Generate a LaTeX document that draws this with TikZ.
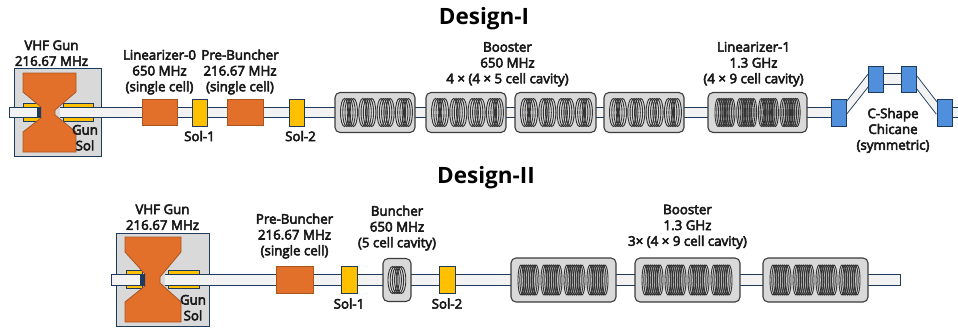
\documentclass[tikz,border=0pt]{standalone}
\usepackage{fontspec}
\setmainfont{Open Sans}
\newfontfamily\lblfont[FakeBold=4]{Open Sans}
\newfontfamily\ttlfont{Open Sans}
\usetikzlibrary{positioning,calc,backgrounds}
\definecolor{gunorange}{HTML}{E2702B}
\definecolor{edgeorange}{HTML}{A9551F}
\definecolor{solyellow}{HTML}{FFC000}
\definecolor{magblue}{HTML}{4F8FDB}
\definecolor{edgeblue}{HTML}{1F3B5C}
\definecolor{pipefill}{HTML}{F2F2F2}
\definecolor{boxgray}{HTML}{D9D9D9}
\definecolor{edgegray}{HTML}{3C3C3C}
\newcommand{\cellgroups}[6]{% node, first offset, pitch, width, height, rings
  \foreach \g in {0,1,2,3} {
    \pgfmathsetmacro{\cx}{#2+\g*#3}
    \pgfmathsetmacro{\rr}{#6>5 ? 3 : 4}
    \pgfmathsetmacro{\stepx}{(#4-2*\rr)/(#6-1)}
    \foreach \k in {1,...,#6} {
      \pgfmathsetmacro{\rx}{\cx-#4/2+\rr+(\k-1)*\stepx}
      \draw[ring] ($(#1.west)+(\rx,0)$) ellipse (\rr pt and #5pt);
    }
  }
}

\begin{document}
\begin{tikzpicture}[
  x=1pt, y=-1pt,
  every node/.style={outer sep=0pt},
  gunbox/.style={draw=edgeblue, fill=boxgray, line width=1pt, inner sep=0pt},
  gunsol/.style={draw=edgeblue, fill=solyellow, line width=1pt, inner sep=0pt},
  gunbody/.style={draw=edgeorange, fill=gunorange, line width=0.8pt},
  cathode/.style={draw=none, fill=edgeblue, inner sep=0pt},
  rfbox/.style={draw=edgeorange, fill=gunorange, line width=1pt, inner sep=0pt},
  solbox/.style={draw=edgeblue, fill=solyellow, line width=1pt, inner sep=0pt, minimum width=15pt, minimum height=27pt},
  magnet/.style={draw=edgeblue, fill=magblue, line width=1pt, inner sep=0pt, minimum width=15pt, minimum height=27pt},
  cavity/.style={draw=edgegray, fill=boxgray, line width=1.1pt, rounded corners=5pt, inner sep=0pt},
  ring/.style={draw=edgegray!85!black, line width=0.9pt},
  pipe/.style={draw=edgeblue, double=pipefill, double distance=9.5pt, line width=0.9pt},
  endpipe/.style={pipe, line cap=rect},
  bendpipe/.style={pipe, double distance=7pt, shorten <=-4pt, shorten >=-4pt},
  lbl/.style={font=\lblfont\fontsize{13.3}{15.8}\selectfont, align=center, inner sep=0pt, text=black!90},
  ttl/.style={font=\ttlfont\bfseries\fontsize{22.5}{26}\selectfont, inner sep=0pt},
]
\useasboundingbox (0,0) rectangle (958,332);

%% ---- titles ---------------------------------------------------------------
\node[ttl] (titleI) at (484,19) {Design-I};
\node[ttl] (titleII) at (486,178) {Design-II};

%% ---- design I: gun ---------------------------------------------------------
\begin{scope}[on background layer]
  \node[gunbox, minimum width=87pt, minimum height=88pt] (gunI) at (57.5,112) {};
  \node[gunsol, minimum width=18pt, minimum height=18pt] (gsolIa) at (32,112.5) {};
  \node[gunsol, minimum width=30pt, minimum height=18pt] (gsolIb) at (78,112.5) {};
\end{scope}
\coordinate (beamIa) at (15,112.5);
\coordinate (beamIb) at (42,112.5);
\coordinate (beamIc) at (60,112.5);
\draw[gunbody] (23,73) -- (76,73) -- (76,92) -- (55,110) -- (55,115) -- (76,132)
  -- (76,152) -- (23,152) -- (23,132) -- (41,118) -- (41,107) -- (23,92) -- cycle;
\node[cathode, minimum width=4pt, minimum height=11pt] (cathI) at (39,112.5) {};
\node[lbl, above=2pt of gunI, xshift=-6pt] (gunIlbl) {VHF Gun\\216.67 MHz};
\node[lbl, anchor=south east] (gsolIlbl) at (98,150.5) {Gun\\Sol};

%% ---- design I: line --------------------------------------------------------
\node[rfbox, minimum width=35pt, minimum height=26pt] (linO) at (159.5,112.5) {};
\node[solbox, right=15pt of linO] (solIa) {};
\node[rfbox, minimum width=36pt, minimum height=26pt, right=20pt of solIa] (preI) {};
\node[solbox, right=26pt of preI] (solIb) {};
\node[cavity, minimum width=80pt, minimum height=40pt, right=31pt of solIb] (boostIa) {};
\node[cavity, minimum width=80pt, minimum height=40pt, right=11pt of boostIa] (boostIb) {};
\node[cavity, minimum width=81pt, minimum height=40pt, right=9pt of boostIb] (boostIc) {};
\node[cavity, minimum width=80pt, minimum height=40pt, right=8pt of boostIc] (boostId) {};
\node[cavity, minimum width=99pt, minimum height=40pt, right=24pt of boostId] (linA) {};
\foreach \n in {boostIa,boostIb,boostIc,boostId} {\cellgroups{\n}{14}{18.3}{17}{14}{5}}
\cellgroups{linA}{17}{21.7}{20}{14}{9}

%% ---- design I: chicane -----------------------------------------------------
\node[magnet, right=24pt of linA] (magA) {};
\node[magnet, minimum height=26pt] (magB) at (876,79) {};
\node[magnet, minimum height=26pt] (magC) at (909,79) {};
\node[magnet] (magD) at (944.5,112.5) {};
\coordinate (beamId) at (965,112.5);

\begin{scope}[on background layer]
  \draw[endpipe] (beamIa) -- (beamIb);
  \draw[pipe] (beamIc) -- (linO);
  \foreach \a/\b in {linO/solIa,solIa/preI,preI/solIb,solIb/boostIa,boostIa/boostIb,
    boostIb/boostIc,boostIc/boostId,boostId/linA,linA/magA,magB/magC,magD/beamId}
    \draw[pipe] (\a) -- (\b);
  \draw[bendpipe] ($(magA.east)+(0,-4)$) -- ($(magB.west)+(0,1)$);
  \draw[bendpipe] ($(magC.east)+(0,3)$) -- ($(magD.west)+(0,-4)$);
\end{scope}

%% ---- design I: labels ------------------------------------------------------
\node[lbl, above=5pt of linO] (linOlbl) {Linearizer-0\\650 MHz\\(single cell)};
\node[lbl, above=5pt of preI, xshift=-5pt] (preIlbl) {Pre-Buncher\\216.67 MHz\\(single cell)};
\node[lbl, below=5pt of solIa] (solIalbl) {Sol-1};
\node[lbl, below=5pt of solIb, xshift=4pt] (solIblbl) {Sol-2};
\node[lbl, above=6pt of boostIc, xshift=-48pt] (boostIlbl) {Booster\\650 MHz\\4 × (4 × 5 cell cavity)};
\node[lbl, above=6pt of linA, xshift=-4pt] (linAlbl) {Linearizer-1\\1.3 GHz\\(4 × 9 cell cavity)};
\node[lbl] (chicanelbl) at (893,130.5) {C-Shape\\Chicane\\(symmetric)};

%% ---- design II: gun --------------------------------------------------------
\begin{scope}[on background layer]
  \node[gunbox, minimum width=93pt, minimum height=93pt] (gunII) at (162.5,279.5) {};
  \node[gunsol, minimum width=16pt, minimum height=18pt] (gsolIIa) at (134,279.5) {};
  \node[gunsol, minimum width=31pt, minimum height=18pt] (gsolIIb) at (183.5,279.5) {};
\end{scope}
\coordinate (beamIIa) at (116.5,280);
\coordinate (beamIIb) at (145,280);
\coordinate (beamIIc) at (165,280);
\draw[gunbody] (125,237) -- (181,237) -- (181,252) -- (160,277) -- (160,283) -- (181,302)
  -- (181,322) -- (125,322) -- (125,302) -- (145,286) -- (145,274) -- (125,252) -- cycle;
\node[cathode, minimum width=5pt, minimum height=12pt] (cathII) at (142.5,280) {};
\node[lbl, above=3pt of gunII] (gunIIlbl) {VHF Gun\\216.67 MHz};
\node[lbl, anchor=south east] (gsolIIlbl) at (206,320.5) {Gun\\Sol};

%% ---- design II: line -------------------------------------------------------
\node[rfbox, minimum width=37pt, minimum height=27pt] (preII) at (294.5,280) {};
\node[solbox, minimum width=16pt, right=28pt of preII] (solIIa) {};
\node[cavity, minimum width=28pt, minimum height=43pt, right=26pt of solIIa] (bunch) {};
\node[solbox, minimum width=16pt, right=28pt of bunch] (solIIb) {};
\node[cavity, minimum width=105pt, minimum height=44pt, right=56pt of solIIb] (boostIIa) {};
\node[cavity, minimum width=105pt, minimum height=44pt, right=19pt of boostIIa] (boostIIb) {};
\node[cavity, minimum width=105pt, minimum height=44pt, right=23pt of boostIIb] (boostIIc) {};
\coordinate (beamIId) at (895,280);
\foreach \k in {1,...,5} {
  \pgfmathsetmacro{\rx}{9.5+(\k-1)*2.2}
  \draw[ring] ($(bunch.west)+(\rx,0)$) ellipse (4.5pt and 13.5pt);
}
\foreach \n in {boostIIa,boostIIb,boostIIc} {\cellgroups{\n}{17.5}{23}{21}{15}{9}}

\begin{scope}[on background layer]
  \draw[endpipe] (beamIIa) -- (beamIIb);
  \draw[pipe] (beamIIc) -- (preII);
  \foreach \a/\b in {preII/solIIa,solIIa/bunch,bunch/solIIb,solIIb/boostIIa,
    boostIIa/boostIIb,boostIIb/boostIIc}
    \draw[pipe] (\a) -- (\b);
  \draw[endpipe] (boostIIc) -- (beamIId);
\end{scope}

%% ---- design II: labels -----------------------------------------------------
\node[lbl, above=8pt of preII] (preIIlbl) {Pre-Buncher\\216.67 MHz\\(single cell)};
\node[lbl, below=5pt of solIIa] (solIIalbl) {Sol-1};
\node[lbl, above=8pt of bunch] (bunchlbl) {Buncher\\650 MHz\\(5 cell cavity)};
\node[lbl, below=5pt of solIIb] (solIIblbl) {Sol-2};
\node[lbl, above=9pt of boostIIb] (boostIIlbl) {Booster\\1.3 GHz\\3× (4 × 9 cell cavity)};

\end{tikzpicture}
\end{document}
